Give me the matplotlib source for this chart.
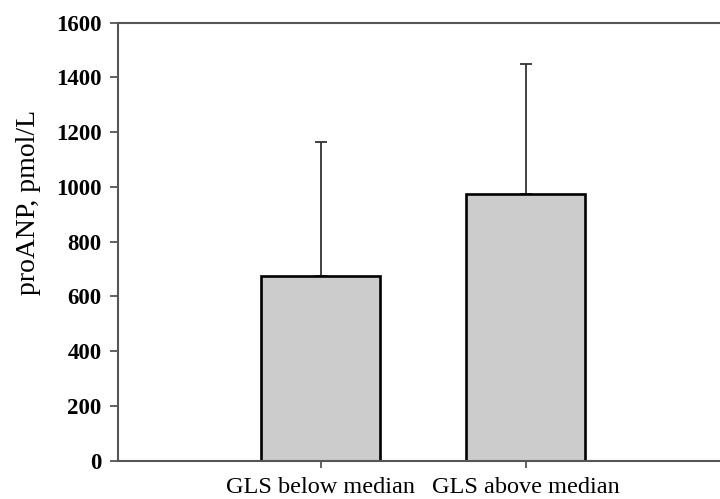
#!/usr/bin/env python3

import matplotlib
matplotlib.use("Agg")
import matplotlib.pyplot as plt

# Groups and values
groups = ["GLS below median", "GLS above median"]
means = [675, 975]
sds = [490, 475]
yticks = [0, 200, 400, 600, 800, 1000, 1200, 1400, 1600]

plt.rcParams["font.family"] = ["Liberation Serif", "DejaVu Serif"]

def main():
    fig = plt.figure(figsize=(7.2, 4.99), dpi=100)
    ax = fig.add_axes([0.164, 0.077, 0.836, 0.8775])

    x = list(range(len(groups)))
    ax.bar(x, means, width=0.58, color="#cccccc", edgecolor="black",
           linewidth=1.9, zorder=2)
    # Only the upper half of the error bar is shown
    ax.errorbar(x, means, yerr=[[0, 0], sds], fmt="none", ecolor="#333333",
                elinewidth=1.3, capsize=4.5, capthick=1.3, zorder=1)

    ax.set_xlim(-0.99, 1.95)
    ax.set_ylim(0, 1600)
    ax.set_yticks(yticks)
    ax.set_yticklabels([str(t) for t in yticks], fontsize=16.5, fontweight="bold")
    ax.set_xticks(x)
    ax.set_xticklabels(groups, fontsize=17.5)
    ax.set_ylabel("proANP, pmol/L", fontsize=20)
    ax.yaxis.set_label_coords(-0.128, 0.59)

    for s in ["left", "bottom", "top"]:
        ax.spines[s].set_color("#555555")
        ax.spines[s].set_linewidth(1.5)
    ax.spines["right"].set_visible(False)
    ax.tick_params(axis="y", direction="out", length=6, width=1.3,
                   color="#555555", pad=6)
    ax.tick_params(axis="x", direction="out", length=5, width=1.3,
                   color="#555555", pad=7)

    plt.savefig("out.png", format="png", dpi=100)

if __name__ == "__main__":
    main()
